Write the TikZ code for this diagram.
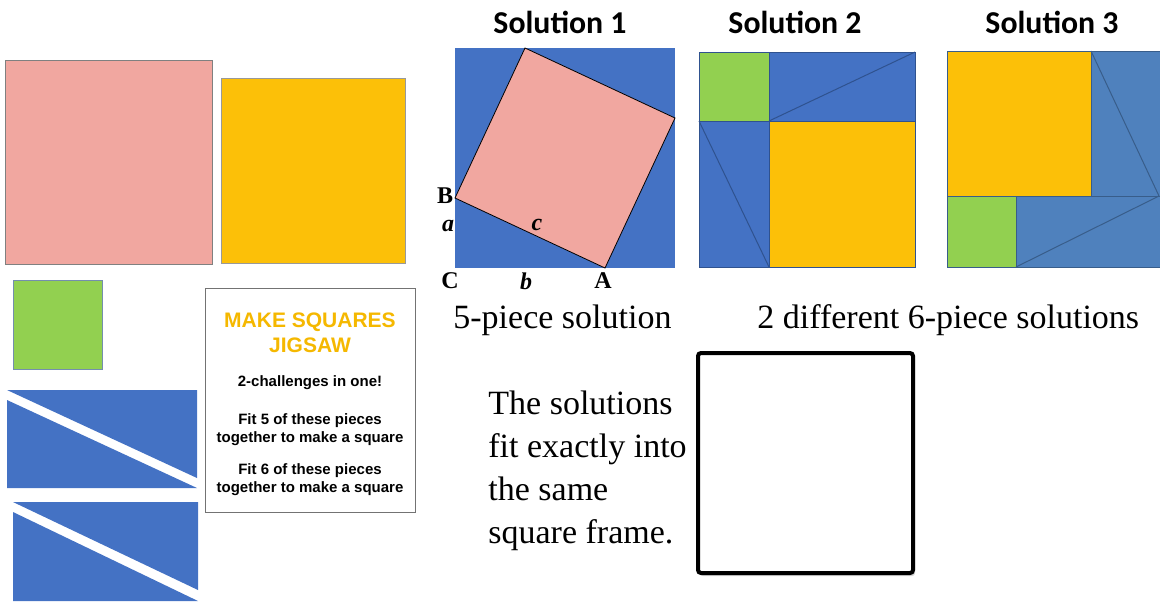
\documentclass[tikz,border=0pt]{standalone}
\usepackage{fontspec}
\setmainfont{Liberation Serif}
\newfontfamily\headfont{Carlito}
\newfontfamily\cardfont{Liberation Sans}
\usepackage{tikz}
\usetikzlibrary{shadows}
\definecolor{tileblue}{RGB}{68,114,196}
\definecolor{steelblue}{RGB}{79,129,189}
\definecolor{tilepink}{RGB}{241,167,160}
\definecolor{tileyellow}{RGB}{252,192,8}
\definecolor{tilegreen}{RGB}{146,208,80}
\definecolor{seamblue}{RGB}{47,82,143}
\definecolor{seamsteel}{RGB}{56,93,138}
\definecolor{titleorange}{RGB}{245,184,0}

\begin{document}
\begin{tikzpicture}[x=0.5pt, y=-0.5pt,
    loose/.style={line width=0.5pt},
    seam/.style={draw=seamblue, line width=0.5pt},
    steelseam/.style={draw=seamsteel, line width=0.5pt},
    head/.style={font=\headfont\bfseries\fontsize{15.9}{18}\selectfont, anchor=base, inner sep=0},
    caption/.style={font=\fontsize{17}{20}\selectfont, anchor=base west, inner sep=0},
    corner/.style={font=\bfseries\fontsize{12}{14}\selectfont, inner sep=0},
    side/.style={font=\bfseries\itshape\fontsize{12}{14}\selectfont, inner sep=0},
    card/.style={draw=black!55, line width=0.5pt, fill=white, minimum width=105pt, minimum height=112pt, inner sep=0},
    cardtitle/.style={font=\cardfont\bfseries\fontsize{10.5}{12}\selectfont, text=titleorange, anchor=base, inner sep=0},
    cardline/.style={font=\cardfont\bfseries\fontsize{7.5}{9}\selectfont, anchor=base, inner sep=0},
    frame/.style={draw=black, line width=2pt, rounded corners=1.5pt, fill=white, minimum width=107.5pt, minimum height=110pt, inner sep=0,
        drop shadow={opacity=0.35, shadow xshift=1pt, shadow yshift=-1.5pt}}
]
\useasboundingbox (0,0) rectangle (1160,601);

% loose pieces
\filldraw[loose, fill=tilepink, draw=black!50] (5,60) rectangle (212,264);
\filldraw[loose, fill=tileyellow, draw=black!40] (221,78) rectangle (405,263);
\filldraw[loose, fill=tilegreen, draw=seamsteel!70] (13,280) rectangle (102,369);
\fill[tileblue] (7,390) -- (197,390) -- (197,478) -- cycle;
\fill[tileblue] (7,400) -- (7,488) -- (197,488) -- cycle;
\fill[tileblue] (13,502) -- (198,502) -- (198,590) -- cycle;
\fill[tileblue] (13,512) -- (13,601) -- (198,601) -- cycle;

\node[card] (card) at (310,400) {};
\node[cardtitle] (title1) at (310,327) {MAKE SQUARES};
\node[cardtitle] (title2) at (310,352) {JIGSAW};
\node[cardline] (line1) at (310,386) {2-challenges in one!};
\node[cardline] (line2) at (310,424) {Fit 5 of these pieces};
\node[cardline] (line3) at (310,442) {together to make a square};
\node[cardline] (line4) at (310,474) {Fit 6 of these pieces};
\node[cardline] (line5) at (310,492) {together to make a square};

% solution 1
\node[head] (head1) at (560,33) {Solution 1};
\coordinate (C) at (455,268);
\coordinate (A) at (605,268);
\coordinate (B) at (455,198);
\coordinate (T) at (525,48);
\coordinate (R) at (675,118);
\fill[tileblue] (455,48) rectangle (675,268);
\filldraw[fill=tilepink, draw=black, line width=0.4pt] (B) -- (A) -- (R) -- (T) -- cycle;
\node[corner] (lblB) at (445,196) {B};
\node[side] (lbla) at (448,226) {a};
\node[side] (lblc) at (537,225) {c};
\node[corner] (lblC) at (450,281) {C};
\node[side] (lblb) at (526,281) {b};
\node[corner] (lblA) at (603,281) {A};

% solution 2
\node[head] (head2) at (795,33) {Solution 2};
\fill[tileblue] (699,52) rectangle (915,267);
\filldraw[seam, fill=tilegreen] (699,52) rectangle (769,121);
\filldraw[seam, fill=tileyellow] (769,121) rectangle (915,267);
\draw[seam] (769,52) rectangle (915,121);
\draw[seam] (699,121) rectangle (769,267);
\draw[seam] (769,121) -- (915,52);
\draw[seam] (699,121) -- (769,267);

% solution 3
\node[head] (head3) at (1052,33) {Solution 3};
\fill[steelblue] (947,51) rectangle (1163,267);
\filldraw[steelseam, fill=tileyellow] (947,51) rectangle (1091,196);
\filldraw[steelseam, fill=tilegreen] (947,196) rectangle (1016,267);
\draw[steelseam] (1091,51) rectangle (1163,196);
\draw[steelseam] (1016,196) rectangle (1163,267);
\draw[steelseam] (1091,51) -- (1159,196);
\draw[steelseam] (1016,267) -- (1159,196);

\node[caption] (cap5) at (453,328) {5-piece solution};
\node[caption] (cap6) at (757,328) {2 different 6-piece solutions};

\node[caption, anchor=north west, align=left, font=\fontsize{17}{21.5}\selectfont] (note) at (488,390)
    {The solutions\\fit exactly into\\the same\\square frame.};

\node[frame] (box) at (805.5,463) {};
\end{tikzpicture}
\end{document}
